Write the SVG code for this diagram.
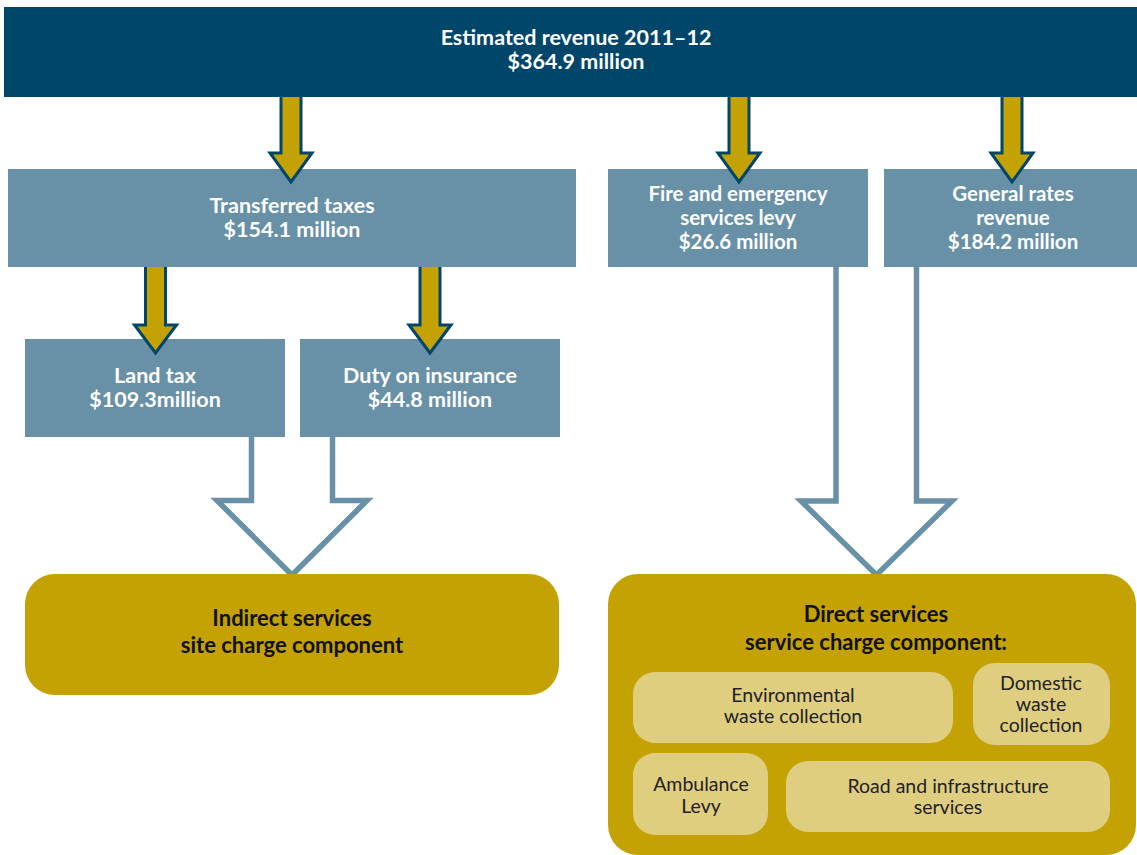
<svg xmlns="http://www.w3.org/2000/svg" width="1137" height="855" viewBox="0 0 1137 855">
<defs>
<style>
.top{fill:#00466A}
.box{fill:#6890A7}
.gold{fill:#C4A204}
.inner{fill:#E0CE80}
.wt{font-family:Lato,"Open Sans","Liberation Sans",sans-serif;font-weight:bold;font-size:21.5px;fill:#FFFFFF;text-anchor:middle}
.w3{font-size:20.5px}
.bt{font-family:Lato,"Open Sans","Liberation Sans",sans-serif;font-weight:bold;font-size:22px;fill:#111111;text-anchor:middle}
.rt{font-family:Lato,"Open Sans","Liberation Sans",sans-serif;font-size:19.5px;fill:#222222;text-anchor:middle}
.garrow{fill:#C4A204;stroke:#00466A;stroke-width:3;stroke-linejoin:miter}
.harrow{fill:#FFFFFF;stroke:#6890A7;stroke-width:5.5;stroke-linejoin:miter}
</style>
</defs>
<rect width="1137" height="855" fill="#FFFFFF"/>
<g id="connectors">
<path class="harrow" d="M251.5,437 V500.5 H217 L292,575 L367,500.5 H332.5 V437"/>
<path class="harrow" d="M836,267 V501 H801 L876.5,575 L952,501 H916.5 V267"/>
</g>
<g id="revenue">
<rect class="top" x="4" y="7" width="1133" height="90"/>
<text class="wt"><tspan x="576" y="45">Estimated revenue 2011–12</tspan><tspan x="576" y="69">$364.9 million</tspan></text>
</g>
<g id="transferred">
<rect class="box" x="8" y="169" width="568" height="98"/>
<text class="wt"><tspan x="292" y="213">Transferred taxes</tspan><tspan x="292" y="237">$154.1 million</tspan></text>
</g>
<g id="fire">
<rect class="box" x="608" y="169" width="260" height="98"/>
<text class="wt w3"><tspan x="738" y="201">Fire and emergency</tspan><tspan x="738" y="225">services levy</tspan><tspan x="738" y="249">$26.6 million</tspan></text>
</g>
<g id="general">
<rect class="box" x="884" y="169" width="253" height="98"/>
<text class="wt w3"><tspan x="1013" y="201">General rates</tspan><tspan x="1013" y="225">revenue</tspan><tspan x="1013" y="249">$184.2 million</tspan></text>
</g>
<g id="landtax">
<rect class="box" x="25" y="339" width="260" height="98"/>
<text class="wt"><tspan x="155" y="383">Land tax</tspan><tspan x="155" y="407">$109.3million</tspan></text>
</g>
<g id="duty">
<rect class="box" x="300" y="339" width="260" height="98"/>
<text class="wt"><tspan x="430" y="383">Duty on insurance</tspan><tspan x="430" y="407">$44.8 million</tspan></text>
</g>
<g id="gold-arrows">
<path class="garrow" d="M281,97 V153 H270 L291,182 L312,153 H301 V97"/>
<path class="garrow" d="M729,97 V153 H718 L739,182 L760,153 H749 V97"/>
<path class="garrow" d="M1002,97 V153 H991 L1012,182 L1033,153 H1022 V97"/>
<path class="garrow" d="M145.5,267 V325 H134.5 L155.5,353 L176.5,325 H165.5 V267"/>
<path class="garrow" d="M420,267 V325 H409 L430,353 L451,325 H440 V267"/>
</g>
<g id="indirect">
<rect class="gold" x="25" y="574" width="534" height="121" rx="30" ry="30"/>
<text class="bt"><tspan x="292" y="626">Indirect services</tspan><tspan x="292" y="653">site charge component</tspan></text>
</g>
<g id="direct">
<rect class="gold" x="608" y="574" width="528" height="281" rx="30" ry="30"/>
<text class="bt"><tspan x="876" y="622">Direct services</tspan><tspan x="876" y="650">service charge component:</tspan></text>
</g>
<g id="environmental">
<rect class="inner" x="633" y="672" width="320" height="71" rx="22" ry="22"/>
<text class="rt"><tspan x="793" y="702">Environmental</tspan><tspan x="793" y="723">waste collection</tspan></text>
</g>
<g id="domestic">
<rect class="inner" x="973" y="663" width="137" height="82" rx="22" ry="22"/>
<text class="rt"><tspan x="1041" y="690">Domestic</tspan><tspan x="1041" y="711">waste</tspan><tspan x="1041" y="732">collection</tspan></text>
</g>
<g id="ambulance">
<rect class="inner" x="633" y="753" width="135" height="82" rx="22" ry="22"/>
<text class="rt"><tspan x="701" y="791">Ambulance</tspan><tspan x="701" y="813">Levy</tspan></text>
</g>
<g id="road">
<rect class="inner" x="786" y="761" width="324" height="71" rx="22" ry="22"/>
<text class="rt"><tspan x="948" y="793">Road and infrastructure</tspan><tspan x="948" y="814">services</tspan></text>
</g>
</svg>
